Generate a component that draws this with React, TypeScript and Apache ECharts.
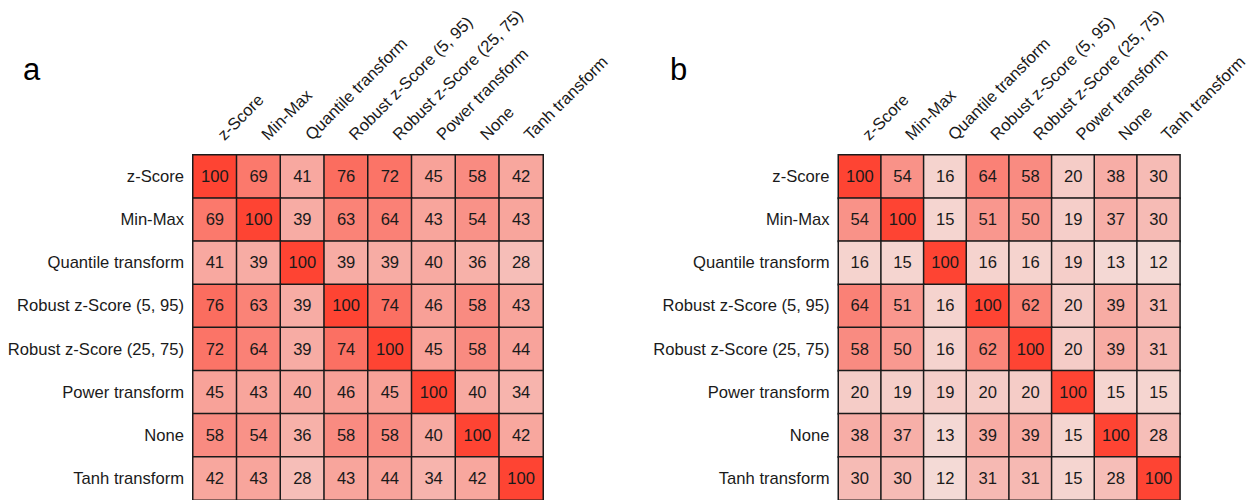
import React, { useEffect, useRef } from "react";
import * as echarts from "echarts";

const methods = [
  "z-Score",
  "Min-Max",
  "Quantile transform",
  "Robust z-Score (5, 95)",
  "Robust z-Score (25, 75)",
  "Power transform",
  "None",
  "Tanh transform",
];

const matrixA = [
  [100, 69, 41, 76, 72, 45, 58, 42],
  [69, 100, 39, 63, 64, 43, 54, 43],
  [41, 39, 100, 39, 39, 40, 36, 28],
  [76, 63, 39, 100, 74, 46, 58, 43],
  [72, 64, 39, 74, 100, 45, 58, 44],
  [45, 43, 40, 46, 45, 100, 40, 34],
  [58, 54, 36, 58, 58, 40, 100, 42],
  [42, 43, 28, 43, 44, 34, 42, 100],
];

const matrixB = [
  [100, 54, 16, 64, 58, 20, 38, 30],
  [54, 100, 15, 51, 50, 19, 37, 30],
  [16, 15, 100, 16, 16, 19, 13, 12],
  [64, 51, 16, 100, 62, 20, 39, 31],
  [58, 50, 16, 62, 100, 20, 39, 31],
  [20, 19, 19, 20, 20, 100, 15, 15],
  [38, 37, 13, 39, 39, 15, 100, 28],
  [30, 30, 12, 31, 31, 15, 28, 100],
];

const panelLetters = ["a", "b"];

const FONT = "Liberation Sans, Arial, Helvetica, sans-serif";
const FS = 16.6;

function toCells(m: number[][]) {
  const out: number[][] = [];
  m.forEach((row, r) => row.forEach((v, c) => out.push([c, r, v])));
  return out;
}

export default function App() {
  const ref = useRef<HTMLDivElement>(null);
  useEffect(() => {
    document.body.style.margin = "0";
    if (!ref.current) return;
    const chart = echarts.init(ref.current, undefined, { renderer: "svg" });
    const grids = [
      { left: 193, top: 155, width: 350, height: 350 },
      { left: 838.5, top: 155, width: 350, height: 350 },
    ];
    const xAxes = grids.map((_, i) => ({
      type: "category",
      gridIndex: i,
      position: "top",
      data: methods,
      axisLine: { show: false },
      axisTick: { show: false },
      splitLine: { show: false },
      axisLabel: {
        rotate: -45,
        interval: 0,
        margin: 12,
        padding: [0, 0, 0, 8],
        fontSize: FS,
        color: "#1a1a1a",
        fontFamily: FONT,
      },
    }));
    const yAxes = grids.map((_, i) => ({
      type: "category",
      gridIndex: i,
      inverse: true,
      data: methods,
      axisLine: { show: false },
      axisTick: { show: false },
      splitLine: { show: false },
      axisLabel: {
        interval: 0,
        margin: 9,
        fontSize: FS,
        color: "#1a1a1a",
        fontFamily: FONT,
      },
    }));
    const mats = [matrixA, matrixB];
    const series = mats.map((m, i) => ({
      type: "heatmap",
      xAxisIndex: i,
      yAxisIndex: i,
      data: toCells(m),
      label: {
        show: true,
        fontSize: FS,
        color: "#1a1a1a",
        fontFamily: FONT,
      },
      itemStyle: { borderColor: "#1a1a1a", borderWidth: 1.5 },
      emphasis: { disabled: true },
    }));
    const visualMap = mats.map((_, i) => ({
      type: "continuous",
      show: false,
      min: 0,
      max: 100,
      seriesIndex: i,
      inRange: { color: ["#f3eeec", "#fe4433"] },
    }));
    chart.setOption({
      animation: false,
      backgroundColor: "#ffffff",
      grid: grids,
      xAxis: xAxes,
      yAxis: yAxes,
      visualMap,
      series,
      graphic: panelLetters.map((t, i) => ({
        type: "text",
        left: i === 0 ? 23 : 670,
        top: 54,
        style: { text: t, fontSize: 31, fill: "#000", fontFamily: FONT },
      })),
    });
    return () => chart.dispose();
  }, []);
  return <div ref={ref} style={{ width: 1250, height: 500 }} />;
}
